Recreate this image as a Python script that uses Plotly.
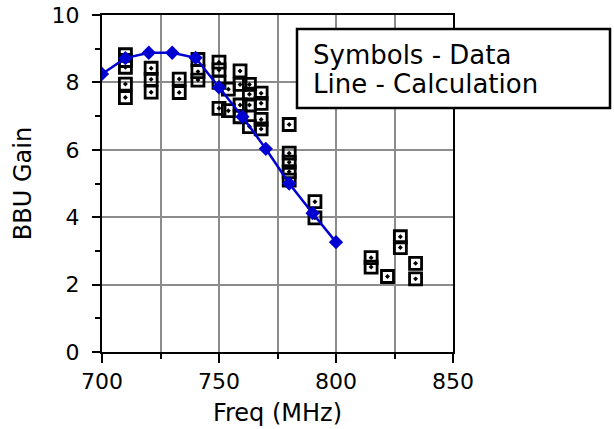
import plotly.graph_objects as go

# Measured data (symbols)
data_freq = [710, 710, 710, 710, 710,
             721, 721, 721,
             733, 733,
             741, 741, 741,
             750, 750, 750, 750,
             754, 754,
             759, 759, 759, 759,
             763, 763, 763, 763,
             768, 768, 768, 768,
             780, 780, 780, 780, 780,
             791, 791,
             815, 815,
             822,
             827.5, 827.5,
             834, 834]
data_gain = [8.82, 8.65, 8.45, 7.95, 7.55,
             8.42, 8.09, 7.71,
             8.10, 7.70,
             8.68, 8.32, 8.07,
             8.60, 8.37, 8.00, 7.23,
             7.80, 7.16,
             8.34, 7.94, 7.33, 6.98,
             7.94, 7.65, 7.33, 6.69,
             7.68, 7.38, 6.90, 6.62,
             6.75, 5.90, 5.63, 5.35, 5.10,
             4.46, 3.98,
             2.80, 2.52,
             2.24,
             3.42, 3.10,
             2.63, 2.17]

# Calculation (line)
calc_freq = [700, 710, 720, 730, 740, 750, 760, 770, 780, 790, 800]
calc_gain = [8.25, 8.72, 8.88, 8.88, 8.73, 7.85, 6.98, 6.03, 5.00, 4.12, 3.26]

x_ticks = [700, 750, 800, 850]
y_ticks = [0, 2, 4, 6, 8, 10]

legend_lines = ["Symbols - Data", "Line - Calculation"]

FONT = "DejaVu Sans"
GRID = "#8c8c8c"

fig = go.Figure()
fig.add_trace(go.Scatter(
    x=data_freq, y=data_gain, mode="markers",
    marker=dict(symbol="square-open-dot", size=12, color="black",
                line=dict(width=2.8, color="black")),
    showlegend=False, hoverinfo="skip"))
fig.add_trace(go.Scatter(
    x=calc_freq, y=calc_gain, mode="lines+markers",
    line=dict(color="rgb(0,0,210)", width=2.5),
    marker=dict(symbol="diamond", size=11, color="rgb(0,0,210)"),
    showlegend=False, hoverinfo="skip"))

fig.update_layout(
    width=614, height=429,
    margin=dict(l=102, r=161, t=15, b=77, autoexpand=False),
    paper_bgcolor="white", plot_bgcolor="white",
    font=dict(family=FONT, color="black"),
    xaxis=dict(
        range=[700, 850], tickvals=x_ticks, ticks="outside", ticklen=9,
        tickwidth=2, tickcolor="black", showline=True, linecolor="black",
        linewidth=2, mirror=True, showgrid=True, gridcolor=GRID, gridwidth=2,
        zeroline=False, tickfont=dict(size=22, family=FONT), automargin=False,
        ticklabeloverflow="allow",
        title=dict(text="Freq (MHz)", font=dict(size=24, family=FONT), standoff=11),
        minor=dict(dtick=25, tick0=700, ticks="outside", ticklen=5, tickwidth=2,
                   tickcolor="black", showgrid=True, gridcolor=GRID, gridwidth=2),
    ),
    yaxis=dict(
        range=[0, 10], tickvals=y_ticks, ticks="outside", ticklen=8,
        tickwidth=2, tickcolor="black", showline=True, linecolor="black",
        linewidth=2, mirror=True, showgrid=True, gridcolor=GRID, gridwidth=2,
        zeroline=False, tickfont=dict(size=22, family=FONT), automargin=False,
        ticklabelstandoff=8, ticklabeloverflow="allow",
        title=dict(text="BBU Gain", font=dict(size=24, family=FONT), standoff=13),
        minor=dict(dtick=1, tick0=0, ticks="outside", ticklen=5, tickwidth=2,
                   tickcolor="black", showgrid=False),
    ),
    shapes=[dict(type="rect", xref="paper", yref="paper",
                 x0=(297 - 102) / 351, x1=(610 - 102) / 351,
                 y0=(352 - 108) / 337, y1=(352 - 29) / 337,
                 line=dict(color="black", width=2.5), fillcolor="white",
                 layer="above")],
    annotations=[
        dict(text=legend_lines[0], xref="paper", yref="paper",
             x=(311 - 102) / 351, y=(352 - 55) / 337, xanchor="left",
             yanchor="middle", showarrow=False,
             font=dict(size=26, family=FONT, color="black")),
        dict(text=legend_lines[1], xref="paper", yref="paper",
             x=(311 - 102) / 351, y=(352 - 84) / 337, xanchor="left",
             yanchor="middle", showarrow=False,
             font=dict(size=26, family=FONT, color="black")),
    ],
)

# remove the browser's default 8px body margin so the figure sits at the page corner
fig.write_html("out.html", config={"displayModeBar": False},
               post_script="document.body.style.margin='0px';")
